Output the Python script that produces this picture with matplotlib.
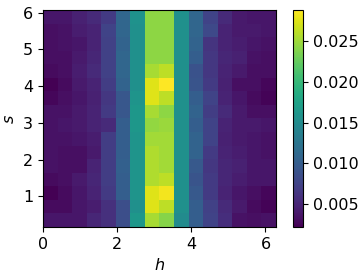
import numpy as np
import matplotlib
matplotlib.use("Agg")
import matplotlib.pyplot as plt

# cell values, rows listed from top (high s) to bottom, 16 h-bins x 16 s-bins
h_range = (0.0, 2 * np.pi)
s_range = (0.17, 6.07)

rows = [
    [0.0038, 0.0038, 0.0046, 0.0054, 0.0067, 0.0110, 0.0158, 0.0243, 0.0243, 0.0155, 0.0110, 0.0075, 0.0054, 0.0041, 0.0038, 0.0038],
    [0.0033, 0.0035, 0.0043, 0.0049, 0.0075, 0.0110, 0.0155, 0.0243, 0.0243, 0.0155, 0.0110, 0.0081, 0.0049, 0.0041, 0.0041, 0.0038],
    [0.0033, 0.0035, 0.0038, 0.0049, 0.0073, 0.0107, 0.0155, 0.0243, 0.0243, 0.0155, 0.0107, 0.0062, 0.0049, 0.0043, 0.0038, 0.0035],
    [0.0033, 0.0033, 0.0041, 0.0051, 0.0073, 0.0110, 0.0155, 0.0243, 0.0243, 0.0155, 0.0102, 0.0065, 0.0051, 0.0046, 0.0035, 0.0033],
    [0.0030, 0.0033, 0.0043, 0.0054, 0.0073, 0.0110, 0.0155, 0.0253, 0.0261, 0.0155, 0.0089, 0.0065, 0.0049, 0.0041, 0.0033, 0.0033],
    [0.0022, 0.0030, 0.0041, 0.0049, 0.0070, 0.0107, 0.0155, 0.0275, 0.0288, 0.0155, 0.0091, 0.0067, 0.0046, 0.0033, 0.0033, 0.0027],
    [0.0027, 0.0033, 0.0038, 0.0046, 0.0065, 0.0094, 0.0160, 0.0275, 0.0261, 0.0155, 0.0102, 0.0075, 0.0049, 0.0038, 0.0030, 0.0025],
    [0.0035, 0.0035, 0.0041, 0.0049, 0.0067, 0.0094, 0.0163, 0.0253, 0.0243, 0.0155, 0.0107, 0.0070, 0.0054, 0.0041, 0.0033, 0.0033],
    [0.0035, 0.0038, 0.0041, 0.0049, 0.0054, 0.0102, 0.0163, 0.0245, 0.0248, 0.0155, 0.0102, 0.0075, 0.0049, 0.0041, 0.0041, 0.0038],
    [0.0035, 0.0035, 0.0038, 0.0043, 0.0070, 0.0102, 0.0160, 0.0251, 0.0251, 0.0155, 0.0107, 0.0075, 0.0046, 0.0041, 0.0038, 0.0035],
    [0.0035, 0.0033, 0.0033, 0.0041, 0.0070, 0.0102, 0.0160, 0.0256, 0.0251, 0.0155, 0.0107, 0.0067, 0.0049, 0.0043, 0.0038, 0.0035],
    [0.0035, 0.0033, 0.0033, 0.0049, 0.0070, 0.0104, 0.0160, 0.0256, 0.0251, 0.0155, 0.0096, 0.0065, 0.0051, 0.0046, 0.0038, 0.0038],
    [0.0030, 0.0033, 0.0041, 0.0051, 0.0070, 0.0102, 0.0160, 0.0256, 0.0261, 0.0155, 0.0091, 0.0067, 0.0051, 0.0043, 0.0038, 0.0038],
    [0.0022, 0.0030, 0.0038, 0.0049, 0.0067, 0.0102, 0.0160, 0.0275, 0.0283, 0.0155, 0.0096, 0.0067, 0.0049, 0.0038, 0.0033, 0.0027],
    [0.0030, 0.0030, 0.0038, 0.0043, 0.0059, 0.0086, 0.0155, 0.0275, 0.0261, 0.0155, 0.0102, 0.0073, 0.0054, 0.0041, 0.0030, 0.0025],
    [0.0038, 0.0038, 0.0038, 0.0051, 0.0059, 0.0086, 0.0163, 0.0253, 0.0240, 0.0150, 0.0102, 0.0075, 0.0057, 0.0035, 0.0033, 0.0035],
]

h_ticks = [0, 2, 4, 6]
s_ticks = [1, 2, 3, 4, 5, 6]
cbar_ticks = [0.005, 0.010, 0.015, 0.020, 0.025]

plt.rcParams["font.size"] = 11.5

fig = plt.figure(figsize=(3.62, 2.76), dpi=100)
ax = fig.add_axes([0.1188, 0.1775, 0.6436, 0.7862])
cax = fig.add_axes([0.8086, 0.1775, 0.0293, 0.7862])

data = np.array(rows)
im = ax.imshow(data, cmap="viridis", origin="upper", aspect="auto",
               extent=[h_range[0], h_range[1], s_range[0], s_range[1]],
               interpolation="nearest")
ax.set_xticks(h_ticks)
ax.set_yticks(s_ticks)
ax.set_xlabel("$h$")
ax.set_ylabel("$s$")

cb = fig.colorbar(im, cax=cax)
cb.set_ticks(cbar_ticks)
cb.set_ticklabels(["0.005", "0.010", "0.015", "0.020", "0.025"])

fig.savefig("out.png", dpi=100)
